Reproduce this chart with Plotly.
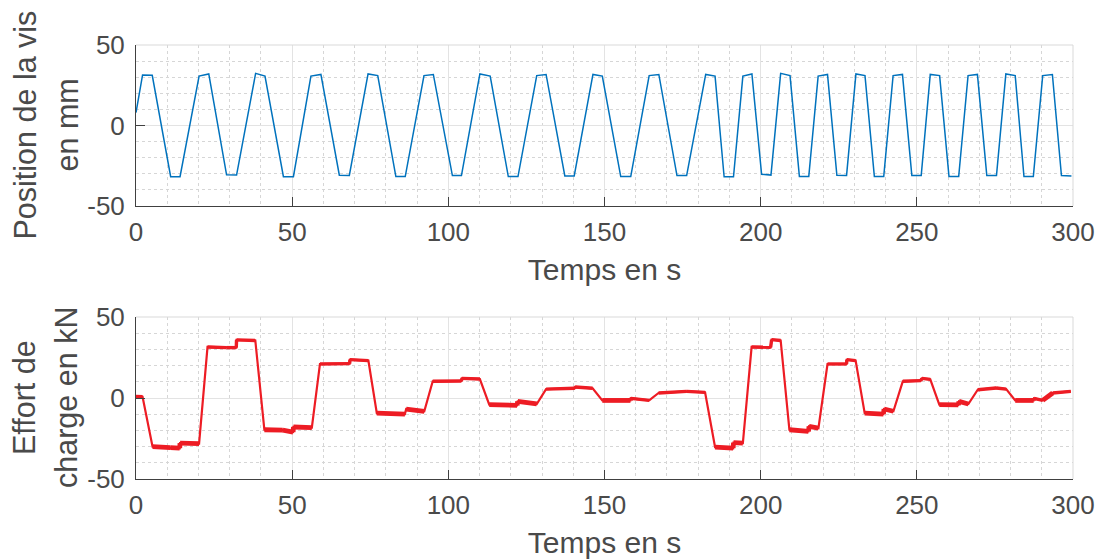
import plotly.graph_objects as go

# ---------------- data ----------------
pos_t = [0, 2.1, 5.2, 11.1, 14.1, 20.2, 23.3, 29.0, 32.2, 38.3, 41.3, 47.2, 50.4,
         56.0, 59.2, 65.1, 68.3, 74.3, 77.4, 83.2, 86.2, 92.2, 95.2, 101.3, 104.2,
         110.1, 113.4, 119.2, 122.3, 128.3, 131.3, 137.3, 140.3, 146.3, 149.3, 155.2,
         158.4, 164.3, 167.4, 173.2, 176.3, 182.4, 185.4, 188.3, 191.3, 194.3, 197.2,
         200.3, 203.3, 206.4, 209.4, 212.4, 215.4, 218.4, 221.4, 224.4, 227.5, 230.5,
         233.4, 236.4, 239.4, 242.4, 245.4, 248.4, 251.4, 254.3, 257.3, 260.3, 263.4,
         266.4, 269.4, 272.4, 275.5, 278.5, 281.5, 284.3, 287.3, 290.3, 293.4, 296.3,
         299.5]
pos_mm = [8.0, 31.4, 31.2, -31.8, -31.8, 30.7, 32.0, -30.6, -30.8, 32.4, 30.7, -31.8, -31.8,
          30.7, 31.7, -30.9, -31.0, 32.0, 31.0, -31.7, -31.7, 31.0, 31.7, -31.1, -31.1,
          32.0, 30.7, -31.7, -31.7, 31.0, 31.7, -31.3, -31.3, 31.7, 30.7, -31.7,
          -31.7, 31.0, 31.7, -31.1, -31.1, 31.7, 30.7, -31.8, -31.8, 30.7, 32.0,
          -30.3, -30.8, 32.4, 31.0, -31.7, -31.7, 30.7, 31.7, -30.9, -31.0, 32.0,
          31.0, -31.7, -31.7, 31.0, 31.7, -31.1, -31.1, 31.7, 31.0, -31.7, -31.7,
          31.0, 31.7, -31.1, -31.1, 32.0, 31.0, -31.7, -31.7, 31.0, 31.7, -31.1,
          -31.3]

force_t = [0, 2.1, 5.3, 11.0, 14.0, 14.1, 20.2, 22.9, 29.0, 32.1, 32.2, 38.2,
           41.1, 47.0, 50.3, 50.4, 56.3, 58.9, 68.4, 68.5, 74.4, 77.1, 86.1, 86.5,
           92.3, 95.0, 104.2, 104.3, 110.1, 113.1, 122.0, 122.2, 128.3, 131.3, 140.5,
           140.6, 146.2, 149.3, 158.3, 158.4, 164.3, 167.3, 176.3, 182.2, 185.4, 191.2,
           191.3, 194.3, 197.1, 203.2, 203.5, 206.4, 209.2, 215.3, 215.5, 218.5, 221.4,
           227.5, 227.6, 230.4, 233.3, 239.3, 239.5, 242.5, 245.5, 251.3, 251.6, 254.3,
           257.2, 263.3, 263.5, 266.5, 269.5, 275.4, 278.6, 281.5, 287.4, 287.5, 290.3,
           293.5, 299.3]
force_kN = [1.0, 0.8, -30.0, -30.6, -31.0, -27.8, -28.2, 31.5, 31.1, 31.1, 35.9, 35.5,
            -19.6, -19.8, -21.0, -17.9, -18.3, 21.0, 21.2, 23.7, 23.1, -9.3, -9.9, -6.8,
            -8.2, 10.3, 10.5, 12.1, 11.7, -4.1, -4.5, -2.1, -3.7, 5.5, 6.0,
            6.8, 6.0, -1.5, -1.5, -0.2, -1.5, 3.1, 4.1, 3.5, -30.3, -31.0,
            -27.5, -27.8, 31.5, 31.3, 36.0, 35.5, -19.6, -20.6, -17.5, -18.6, 21.0,
            21.0, 23.7, 23.1, -9.3, -9.9, -6.8, -8.2, 10.3, 10.7, 12.1, 11.5,
            -4.1, -4.3, -2.1, -3.7, 5.1, 6.2, 5.5, -1.5, -1.5, -0.2, -1.5,
            3.1, 4.1]

x_ticks = [0, 50, 100, 150, 200, 250, 300]
y_ticks = [-50, 0, 50]
y_ticklabels = ["-50", "0", "50"]

# plateau segments (where the load signal vibrates) -> drawn thicker;
# the vibration band is wider on the negative (compression) plateaus
neg_x, neg_y, pos_x, pos_y = [], [], [], []
for i in range(len(force_t) - 1):
    dt = force_t[i + 1] - force_t[i]
    dv = abs(force_kN[i + 1] - force_kN[i])
    if dt < 0.35 or dv / dt < 1.5:
        if force_kN[i] < -1:
            neg_x += [force_t[i], force_t[i + 1], None]
            neg_y += [force_kN[i], force_kN[i + 1], None]
        else:
            pos_x += [force_t[i], force_t[i + 1], None]
            pos_y += [force_kN[i], force_kN[i + 1], None]

# ---------------- figure ----------------
FONT = "Liberation Sans, Arial, Helvetica, sans-serif"
TXT = "#4a4a4a"
AX = "#404040"
BLUE = "#0072BD"
RED = "#ED1C24"

fig = go.Figure()
fig.add_trace(go.Scatter(x=pos_t, y=pos_mm, mode="lines",
                         line=dict(color=BLUE, width=1.5), xaxis="x", yaxis="y",
                         showlegend=False, hoverinfo="skip"))
fig.add_trace(go.Scatter(x=force_t, y=force_kN, mode="lines",
                         line=dict(color=RED, width=2.2), xaxis="x2", yaxis="y2",
                         showlegend=False, hoverinfo="skip"))
fig.add_trace(go.Scatter(x=pos_x, y=pos_y, mode="lines",
                         line=dict(color=RED, width=3.4), xaxis="x2", yaxis="y2",
                         showlegend=False, hoverinfo="skip", connectgaps=False))
fig.add_trace(go.Scatter(x=neg_x, y=neg_y, mode="lines",
                         line=dict(color=RED, width=4.8), xaxis="x2", yaxis="y2",
                         showlegend=False, hoverinfo="skip", connectgaps=False))


def xaxis_style(anchor):
    return dict(
        anchor=anchor, range=[0, 300], tickvals=x_ticks, ticks="inside", ticklen=9,
        tickcolor=AX, tickwidth=1, showline=True, linecolor=AX, linewidth=1,
        showgrid=True, gridcolor="#e3e3e3", gridwidth=1, zeroline=False,
        tickfont=dict(family=FONT, size=26, color=TXT),
        title=dict(text="Temps en s", font=dict(family=FONT, size=30, color=TXT),
                   standoff=12),
        minor=dict(dtick=10, showgrid=True, griddash="dot", gridcolor="#d6d6d6",
                   gridwidth=1, ticks=""),
        automargin=False, ticklabelstandoff=3,
    )


def yaxis_style(anchor, domain):
    return dict(
        anchor=anchor, domain=domain, range=[-50, 50], tickvals=y_ticks,
        ticktext=y_ticklabels,
        ticks="inside", ticklen=9, tickcolor=AX, tickwidth=1, showline=True,
        linecolor=AX, linewidth=1, showgrid=True, gridcolor="#e3e3e3", gridwidth=1,
        zeroline=False, tickfont=dict(family=FONT, size=26, color=TXT),
        minor=dict(dtick=10, showgrid=True, griddash="dot", gridcolor="#d6d6d6",
                   gridwidth=1, ticks=""),
        automargin=False, ticklabelstandoff=5,
    )


H_PLOT = 559 - 45 - 80
top_dom = [1 - 161 / H_PLOT, 1]
bot_dom = [0, 162 / H_PLOT]

fig.update_layout(
    width=1098, height=559,
    margin=dict(l=136, r=25, t=45, b=80),
    paper_bgcolor="white", plot_bgcolor="white",
    xaxis=xaxis_style("y"),
    yaxis=yaxis_style("x", top_dom),
    xaxis2=xaxis_style("y2"),
    yaxis2=yaxis_style("x2", bot_dom),
)

# light box (top / right edges)
for xr, yr in (("x domain", "y domain"), ("x2 domain", "y2 domain")):
    fig.add_shape(type="line", xref=xr, yref=yr, x0=0, x1=1, y0=1, y1=1,
                  line=dict(color="#d9d9d9", width=1))
    fig.add_shape(type="line", xref=xr, yref=yr, x0=1, x1=1, y0=0, y1=1,
                  line=dict(color="#d9d9d9", width=1))

# y-axis titles (two lines each)
W_PLOT = 1098 - 136 - 25
ylabels = [
    ("x domain", "y domain", ["Position de la vis", "en mm"]),
    ("x2 domain", "y2 domain", ["Effort de", "charge en kN"]),
]
for xr, yr, lines in ylabels:
    for k, (txt, px) in enumerate(zip(lines, (24, 66))):
        fig.add_annotation(xref=xr, yref=yr, x=(px - 136) / W_PLOT, y=0.5,
                           text=txt, textangle=-90, showarrow=False,
                           xanchor="center", yanchor="middle",
                           font=dict(family=FONT, size=30.5, color=TXT))

fig.write_html("out.html", config={"displayModeBar": False},
               post_script="document.body.style.margin='0';document.body.style.overflow='hidden';")
